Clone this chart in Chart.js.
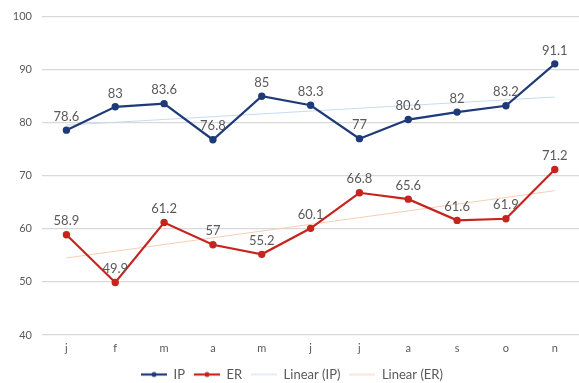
<!DOCTYPE html>
<html>
<head>
<meta charset="utf-8">
<script src="https://cdn.jsdelivr.net/npm/chart.js@4/dist/chart.umd.min.js"></script>
<style>
  html, body { margin: 0; padding: 0; background: #fff; overflow: hidden; }
  #wrap { width: 584px; height: 383px; position: relative; }
</style>
</head>
<body>
<div id="wrap"><canvas id="c"></canvas></div>
<script>
// Monthly categories
const months = ['j', 'f', 'm', 'a', 'm', 'j', 'j', 'a', 's', 'o', 'n'];
// Series values
const ipValues = [78.6, 83, 83.6, 76.8, 85, 83.3, 77, 80.6, 82, 83.2, 91.1];
const erValues = [58.9, 49.9, 61.2, 57, 55.2, 60.1, 66.8, 65.6, 61.6, 61.9, 71.2];
// Value axis ticks
const yTicks = [40, 50, 60, 70, 80, 90, 100];

const IP_COLOR = '#1f3a78';
const ER_COLOR = '#c4251f';
const IP_TREND = '#c5dcf0';
const ER_TREND = '#f9cdb3';
const FONT = 'Lato, "Open Sans", sans-serif';

// Least-squares linear fit used for the trend lines
function linearFit(vals) {
  const n = vals.length;
  let sx = 0, sy = 0, sxx = 0, sxy = 0;
  vals.forEach((v, i) => { sx += i; sy += v; sxx += i * i; sxy += i * v; });
  const b = (n * sxy - sx * sy) / (n * sxx - sx * sx);
  const a = (sy - b * sx) / n;
  return vals.map((_, i) => a + b * i);
}

// Small legend swatches: a line with an optional marker dot
function swatch(color, width, dot) {
  const c = document.createElement('canvas');
  c.width = 26; c.height = 8;
  const g = c.getContext('2d');
  g.strokeStyle = color; g.lineWidth = width;
  g.beginPath(); g.moveTo(0, 4); g.lineTo(26, 4); g.stroke();
  if (dot) { g.fillStyle = color; g.beginPath(); g.arc(13, 4, 2.5, 0, Math.PI * 2); g.fill(); }
  return c;
}

// Value labels above the markers of the two main series
const valueLabels = {
  id: 'valueLabels',
  afterDatasetsDraw(chart) {
    const ctx = chart.ctx;
    ctx.save();
    ctx.font = '13px ' + FONT;
    ctx.fillStyle = '#595959';
    ctx.textAlign = 'center';
    ctx.textBaseline = 'bottom';
    [0, 1].forEach(di => {
      const meta = chart.getDatasetMeta(di);
      const data = chart.data.datasets[di].data;
      meta.data.forEach((pt, i) => ctx.fillText(String(data[i]), pt.x, pt.y - 7));
    });
    ctx.restore();
  }
};

// Fixed-height legend strip at the bottom
const legendHeight = {
  id: 'legendHeight',
  beforeUpdate(chart) {
    const lg = chart.legend;
    if (lg && !lg._fixedFit) {
      const fit = lg.fit;
      lg.fit = function () { fit.call(this); this.height = 24; this.minSize && (this.minSize.height = 24); };
      lg._fixedFit = true;
    }
  }
};

const swatches = [
  swatch(IP_COLOR, 2.2, true),
  swatch(ER_COLOR, 2.2, true),
  swatch(IP_TREND, 1, false),
  swatch(ER_TREND, 1, false)
];

new Chart(document.getElementById('c'), {
  type: 'line',
  data: {
    labels: months,
    datasets: [
      { label: 'IP', data: ipValues, borderColor: IP_COLOR, backgroundColor: IP_COLOR,
        borderWidth: 2.2, pointRadius: 2.6, pointHoverRadius: 2.6, tension: 0, order: 1 },
      { label: 'ER', data: erValues, borderColor: ER_COLOR, backgroundColor: ER_COLOR,
        borderWidth: 2.2, pointRadius: 2.6, pointHoverRadius: 2.6, tension: 0, order: 2 },
      { label: 'Linear (IP)', data: linearFit(ipValues), borderColor: IP_TREND,
        borderWidth: 1, pointRadius: 0, tension: 0, order: 3 },
      { label: 'Linear (ER)', data: linearFit(erValues), borderColor: ER_TREND,
        borderWidth: 1, pointRadius: 0, tension: 0, order: 4 }
    ]
  },
  options: {
    responsive: true,
    maintainAspectRatio: false,
    animation: false,
    layout: { padding: { top: 13, left: 0, right: 0, bottom: 0 } },
    plugins: {
      tooltip: { enabled: false },
      legend: {
        position: 'bottom',
        labels: {
          usePointStyle: true,
          pointStyleWidth: 26,
          boxHeight: 8,
          padding: 9,
          color: '#595959',
          font: { family: FONT, size: 13 },
          generateLabels(chart) {
            return chart.data.datasets.map((ds, i) => ({
              text: ds.label,
              pointStyle: swatches[i],
              fontColor: '#595959',
              strokeStyle: 'transparent',
              fillStyle: 'transparent',
              lineWidth: 0,
              datasetIndex: i,
              hidden: false
            }));
          }
        }
      }
    },
    scales: {
      x: {
        offset: true,
        grid: { display: false, drawTicks: false },
        border: { display: false },
        ticks: { color: '#595959', font: { family: FONT, size: 11 }, padding: 7 },
        afterFit(s) { s.height = 24; }
      },
      y: {
        min: 40, max: 100,
        afterBuildTicks(s) { s.ticks = yTicks.map(v => ({ value: v })); },
        grid: { color: '#d9d9d9', lineWidth: 1.2, drawTicks: false },
        border: { display: false },
        ticks: { color: '#595959', font: { family: FONT, size: 11 }, padding: 10 },
        afterFit(s) { s.width = 42; }
      }
    }
  },
  plugins: [valueLabels, legendHeight]
});
</script>
</body>
</html>
